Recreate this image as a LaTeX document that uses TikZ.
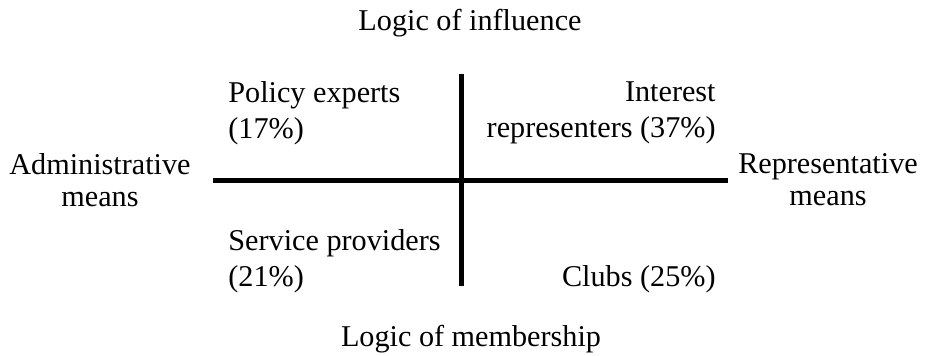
\documentclass[tikz,border=0pt]{standalone}
\usepackage{fontspec}
\setmainfont{Liberation Serif}
\usepackage{tikz}

\begin{document}
\begin{tikzpicture}[x=0.5pt, y=-0.5pt, every node/.style={inner sep=0pt, font=\fontsize{15.1}{16}\selectfont}]
     \useasboundingbox (0,0) rectangle (925,355);

     \node[anchor=base] (influence) at (470,30) {Logic of influence};
     \node[anchor=base] (membership) at (471,346) {Logic of membership};
     \node[align=center] (admin) at (100,180) {Administrative\\means};
     \node[align=center] (repr) at (828,180) {Representative\\means};

     \node[anchor=west, align=left, font=\fontsize{15.1}{17.75}\selectfont] (experts) at (228,113) {Policy experts\\(17\%)};
     \node[anchor=east, align=right, font=\fontsize{15.1}{17.75}\selectfont] (interest) at (716,113) {Interest\\representers (37\%)};
     \node[anchor=west, align=left, font=\fontsize{15.1}{17.75}\selectfont] (service) at (228,261) {Service providers\\(21\%)};
     \node[anchor=base east] (clubs) at (716,286) {Clubs (25\%)};

     \coordinate (top) at (461,74);
     \coordinate (bottom) at (461,286);
     \coordinate (left) at (213,180);
     \coordinate (right) at (728,180);

     \draw[line width=2.5pt] (top) -- (bottom);
     \draw[line width=2.5pt] (left) -- (right);
 \end{tikzpicture}
\end{document}
